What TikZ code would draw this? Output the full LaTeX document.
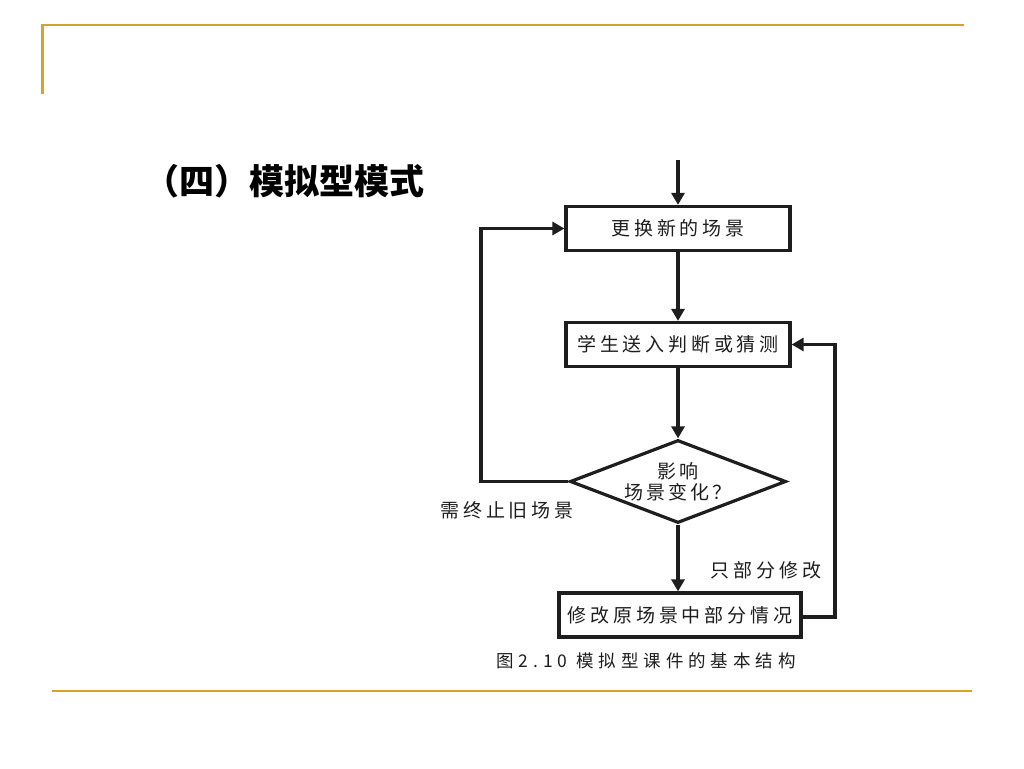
\documentclass[tikz,border=0pt]{standalone}
\usepackage{fontspec}
\usetikzlibrary{shapes.geometric,arrows.meta}
\newfontfamily\cjk{Noto Sans CJK SC}
\newfontfamily\cjksp[LetterSpace=20]{Noto Sans CJK SC}
\newfontfamily\cjkdi[LetterSpace=15]{Noto Sans CJK SC}
\newfontfamily\cjkcap[LetterSpace=28]{Noto Sans CJK SC}
\definecolor{gold}{RGB}{212,164,44}
\definecolor{ink}{RGB}{30,30,30}
\tikzset{
  x=1pt, y=-1pt,
  frame/.style={gold, line width=2.2pt},
  box/.style={draw=ink, line width=3.2pt, rectangle, minimum height=44pt, inner sep=0pt, font=\cjksp\fontsize{19}{22}\selectfont, text=ink},
  dia/.style={draw=ink, line width=3.2pt, diamond, minimum width=216pt, minimum height=83pt, inner sep=0pt, aspect=2.6, align=center, font=\cjkdi\fontsize{19}{21}\selectfont, text=ink},
  arr/.style={draw=ink, line width=3.2pt, -{Triangle[length=12pt,width=13pt]}},
  lbl/.style={font=\cjksp\fontsize{19}{22}\selectfont, text=ink, inner sep=0pt},
  caplbl/.style={font=\cjkcap\fontsize{17.5}{20}\selectfont, text=ink, inner sep=0pt},
}
\begin{document}
\begin{tikzpicture}
\useasboundingbox (0,0) rectangle (1024,768);
\fill[white] (0,0) rectangle (1024,768);
% slide frame
\draw[frame] (42.5,94) -- (42.5,25) -- (964,25);
\draw[frame] (52,691) -- (972,691);
% title
\node[font=\cjk\bfseries\fontsize{35}{38}\selectfont, inner sep=0pt] (title) at (284,181) {（四）模拟型模式};
% flowchart
\coordinate (start) at (678,160);
\node[box, minimum width=224pt] (b1) at (678,228.5) {更换新的场景};
\node[box, minimum width=224pt] (b2) at (678,344.5) {学生送入判断或猜测};
\node[dia] (d) at (678,481.5) {影响\\场景变化？};
\node[box, minimum width=242pt] (b3) at (680,615) {修改原场景中部分情况};
\coordinate (L) at (481,481.5);
\coordinate (R) at (835,617);
\draw[arr] (start) -- (b1.north);
\draw[arr] (b1.south) -- (b2.north);
\draw[arr] (b2.south) -- (d.north);
\draw[arr] (d.south) -- (d.south |- b3.north);
\draw[arr] (d.west) -- (L) |- (b1.west);
\draw[arr] (b3.east |- R) -- (R) |- (b2.east);
\node[lbl] (l1) at (507,510) {需终止旧场景};
\node[lbl] (l2) at (766,570) {只部分修改};
\node[caplbl] (cap) at (646,661) {图2.10 模拟型课件的基本结构};
\end{tikzpicture}
\end{document}
